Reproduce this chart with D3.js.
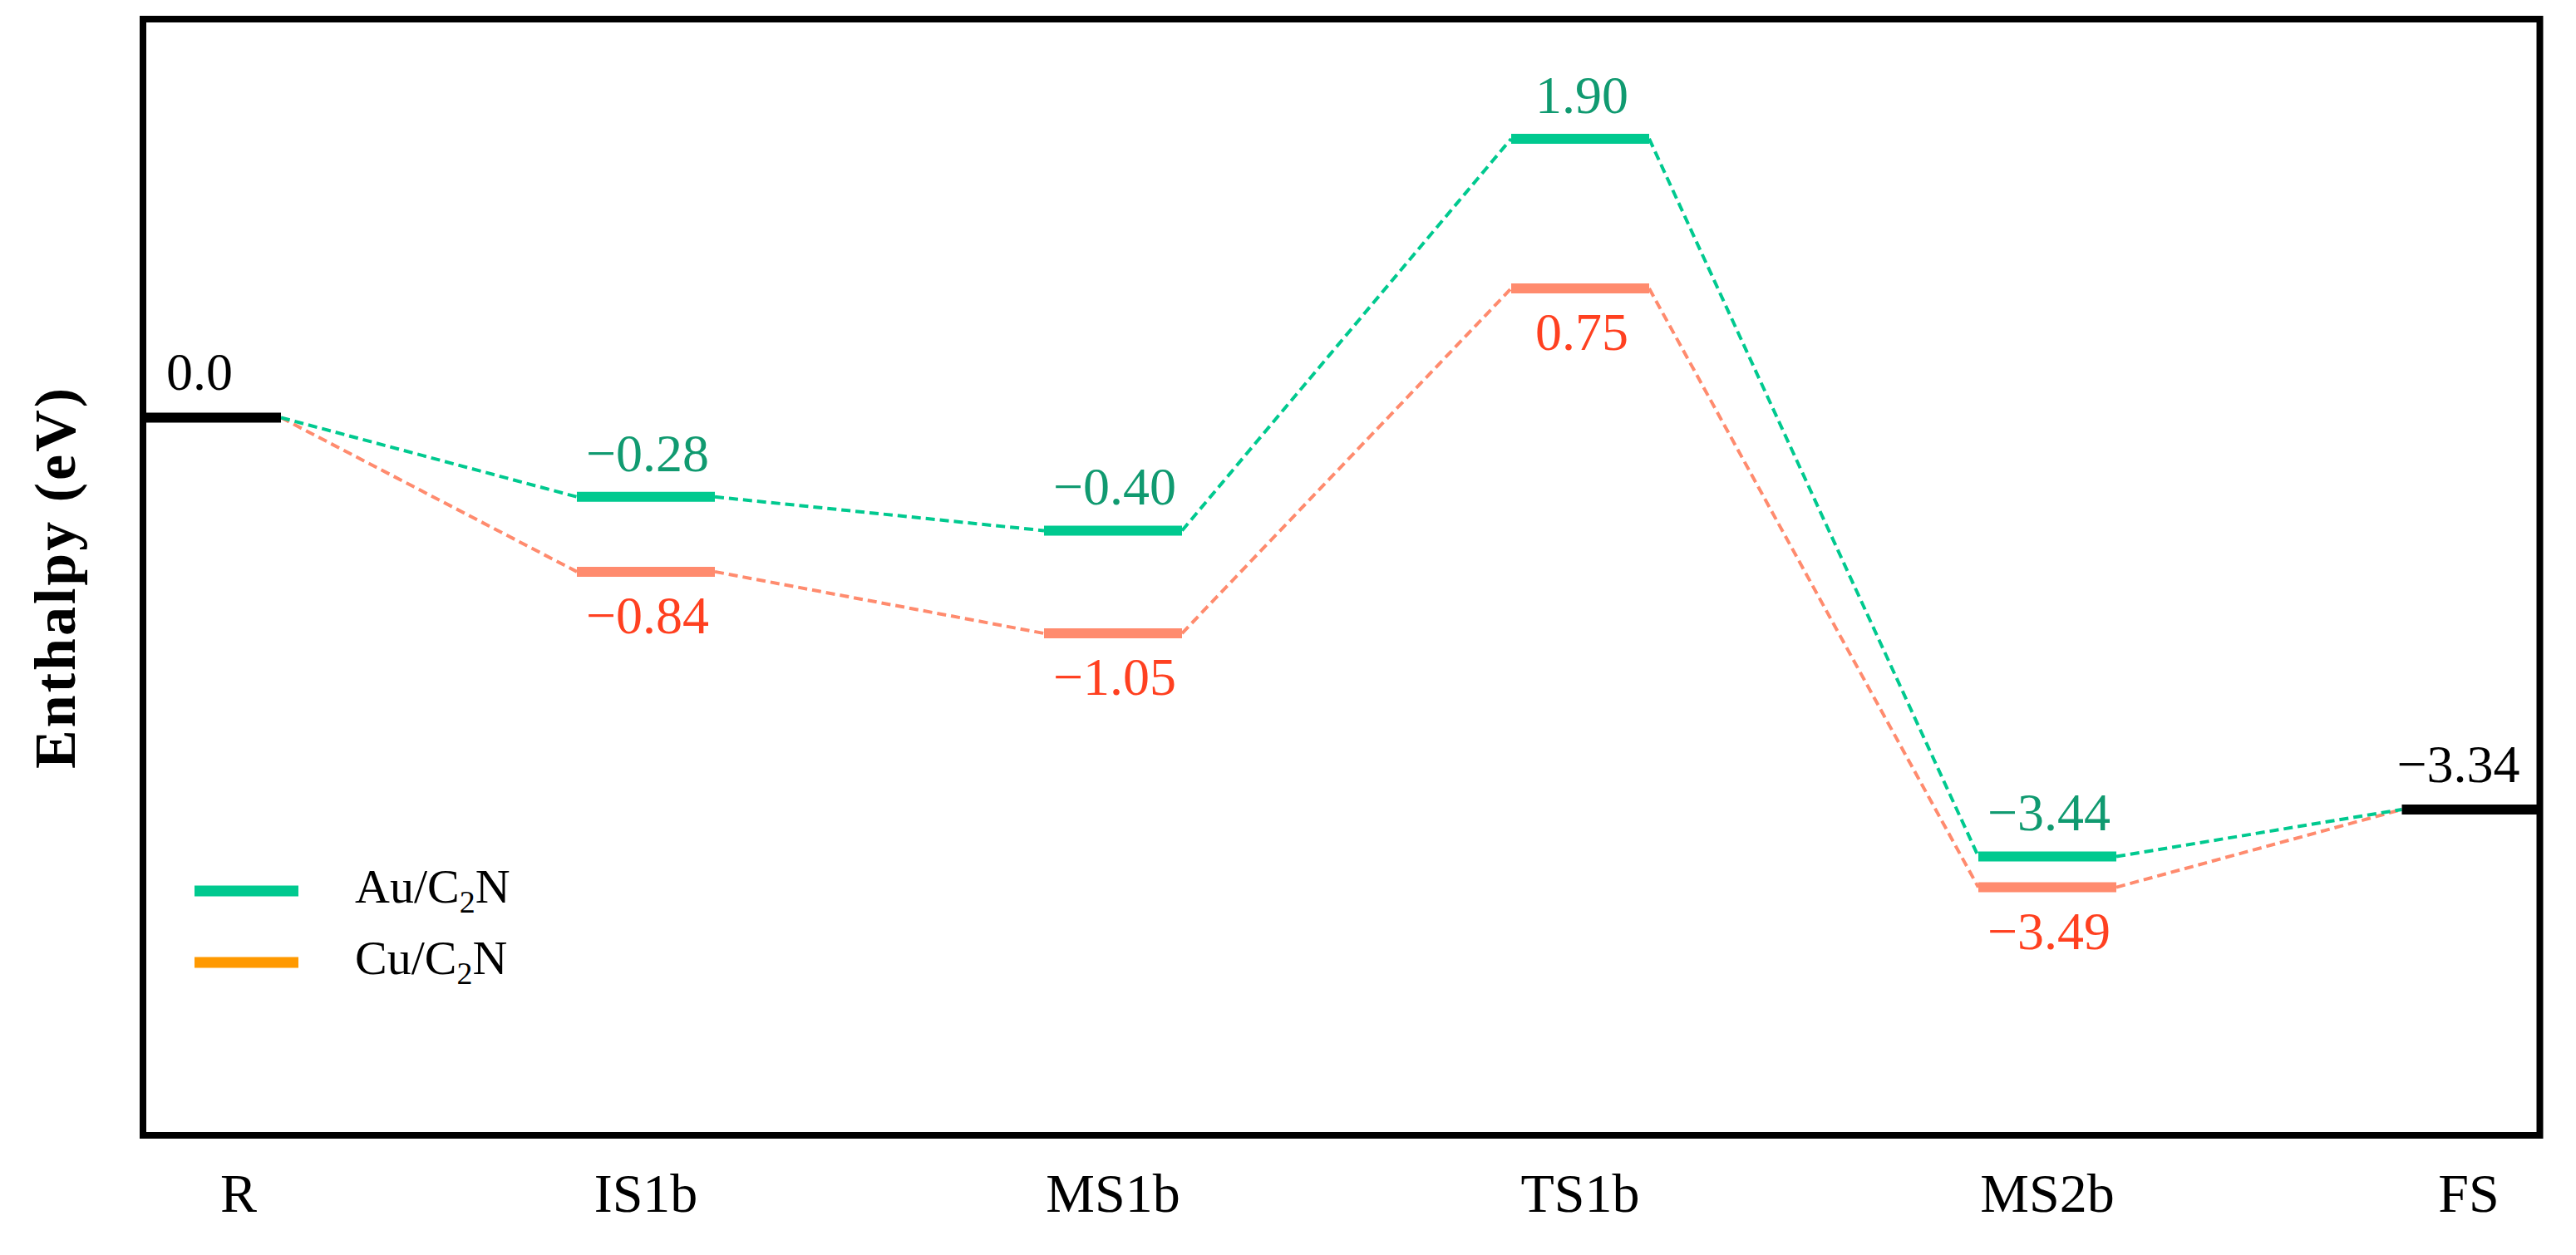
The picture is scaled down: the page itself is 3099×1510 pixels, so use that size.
<!DOCTYPE html>
<html>
<head>
<meta charset="utf-8">
<script src="https://cdn.jsdelivr.net/npm/d3@7"></script>
<style>
  html, body { margin: 0; padding: 0; background: #fff; }
  svg { display: block; }
</style>
</head>
<body>
<svg id="chart" width="3099" height="1510"></svg>
<script>
// ---- data ----
const stages = ["R", "IS1b", "MS1b", "TS1b", "MS2b", "FS"];
const stageIndex = [0, 1, 2, 3, 4, 5];
// vertical placement of each level on the (unscaled) diagram axis
const auLevels = [0, -0.54, -0.77, 1.90, -2.99, -2.67];
const cuLevels = [0, -1.05, -1.47, 0.88, -3.20, -2.67];
// printed energies
const sharedLabels = ["0.0", null, null, null, null, "\u22123.34"];
const auLabels = [null, "\u22120.28", "\u22120.40", "1.90", "\u22123.44", null];
const cuLabels = [null, "\u22120.84", "\u22121.05", "0.75", "\u22123.49", null];
const seriesNames = ["Au/C", "Cu/C"];
const yDomain = [-4.89, 2.715];
const xDomain = [0, 5];

// ---- styles ----
const FONT = "'Liberation Serif', 'Times New Roman', Times, serif";
const GREEN = "#00C98F", SALMON = "#FF8B6E", ORANGE = "#FF9900";
const GREEN_TXT = "#109A70", RED_TXT = "#FF4020";

const frame = { left: 172, right: 3055.5, top: 23, bottom: 1366 };
const barW = 166;

const svg = d3.select("#chart");

const x = d3.scaleLinear().domain(xDomain).range([215, 3025]);
const y = d3.scaleLinear().domain(yDomain).range([frame.bottom, frame.top]);

const barCx = i => Math.max(frame.left + barW / 2, Math.min(frame.right - barW / 2, x(i)));
const labelCx = i => Math.max(287, Math.min(2970, x(i)));

// dashed connectors
function connectors(levels, color) {
  const segs = [];
  for (let i = 0; i < levels.length - 1; i++) {
    segs.push([[barCx(i) + barW / 2, y(levels[i])], [barCx(i + 1) - barW / 2, y(levels[i + 1])]]);
  }
  svg.append("g").selectAll("line").data(segs).join("line")
    .attr("x1", d => d[0][0]).attr("y1", d => d[0][1])
    .attr("x2", d => d[1][0]).attr("y2", d => d[1][1])
    .attr("stroke", color).attr("stroke-width", 4)
    .attr("stroke-dasharray", "11,6");
}
connectors(cuLevels, SALMON);
connectors(auLevels, GREEN);

// level bars
function bars(levels, idx, color) {
  svg.append("g").selectAll("line").data(idx).join("line")
    .attr("x1", i => barCx(i) - barW / 2).attr("x2", i => barCx(i) + barW / 2)
    .attr("y1", i => y(levels[i])).attr("y2", i => y(levels[i]))
    .attr("stroke", color).attr("stroke-width", 12);
}
bars(cuLevels, [1, 2, 3, 4], SALMON);
bars(auLevels, [1, 2, 3, 4], GREEN);
bars(auLevels, [0, 5], "#000");

// value labels
function valueLabels(levels, labels, color, dy, dx) {
  svg.append("g").selectAll("text").data(stageIndex.filter(i => labels[i] !== null)).join("text")
    .attr("x", i => barCx(i) + dx).attr("y", i => y(levels[i]) + dy)
    .attr("text-anchor", "middle")
    .attr("font-family", FONT).attr("font-size", 64)
    .attr("fill", color)
    .text(i => labels[i]);
}
valueLabels(auLevels, auLabels, GREEN_TXT, -31, 2);
valueLabels(cuLevels, cuLabels, RED_TXT, 74, 2);
valueLabels(auLevels, sharedLabels, "#000", -33, -15);

// frame
svg.append("rect")
  .attr("x", frame.left).attr("y", frame.top)
  .attr("width", frame.right - frame.left).attr("height", frame.bottom - frame.top)
  .attr("fill", "none").attr("stroke", "#000").attr("stroke-width", 8);

// x category labels
svg.append("g").selectAll("text").data(stageIndex).join("text")
  .attr("x", i => labelCx(i)).attr("y", 1458)
  .attr("text-anchor", "middle")
  .attr("font-family", FONT).attr("font-size", 66).attr("fill", "#000")
  .text(i => stages[i]);

// y axis title
svg.append("text")
  .attr("transform", `translate(90, ${(frame.top + frame.bottom) / 2}) rotate(-90)`)
  .attr("text-anchor", "middle")
  .attr("font-family", FONT).attr("font-size", 70).attr("font-weight", "bold")
  .attr("letter-spacing", 3)
  .attr("fill", "#000")
  .text("Enthalpy (eV)");

// legend
const legendColors = [GREEN, ORANGE];
const legendY = [1072, 1158];
const lg = svg.append("g");
seriesNames.forEach((name, k) => {
  lg.append("line")
    .attr("x1", 234).attr("x2", 359)
    .attr("y1", legendY[k]).attr("y2", legendY[k])
    .attr("stroke", legendColors[k]).attr("stroke-width", 13);
  const t = lg.append("text")
    .attr("x", 427).attr("y", legendY[k] + 14)
    .attr("font-family", FONT).attr("font-size", 58).attr("fill", "#000");
  t.append("tspan").text(name);
  t.append("tspan").attr("font-size", 38).attr("dy", 12).text("2");
  t.append("tspan").attr("dy", -12).text("N");
});
</script>
</body>
</html>
